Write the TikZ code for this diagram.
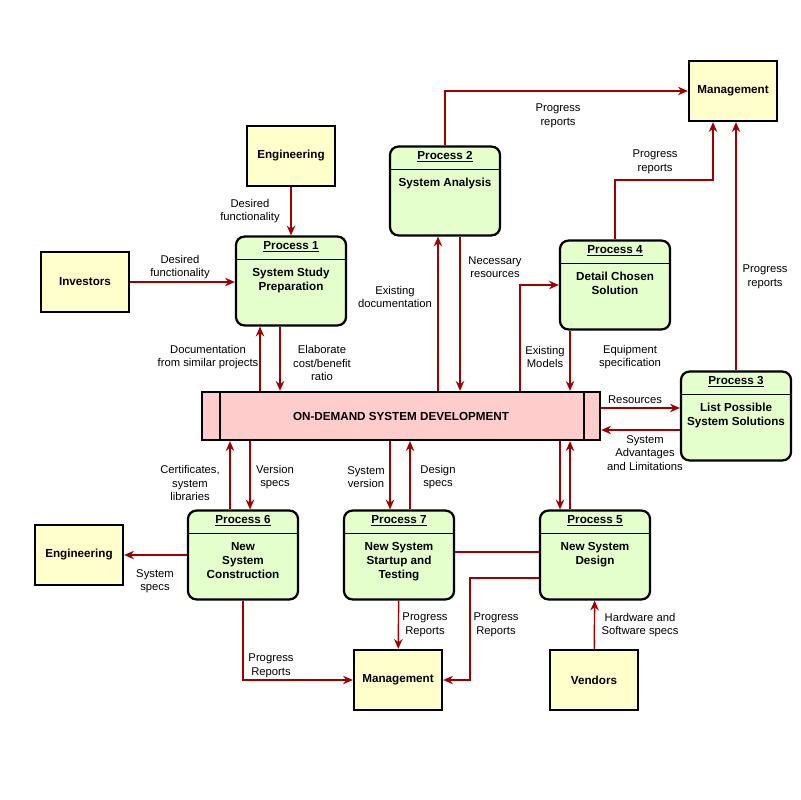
\documentclass[tikz,border=0pt]{standalone}
\usepackage{fontspec}
\setmainfont{Liberation Sans}
\usetikzlibrary{arrows.meta, calc, positioning}
\definecolor{flowred}{HTML}{A00000}
\definecolor{extfill}{HTML}{FFFFCC}
\definecolor{procfill}{HTML}{E5FFCC}
\definecolor{storefill}{HTML}{FFCCCC}
\newcommand{\smallbf}{\fontsize{8.3}{10}\selectfont\bfseries}
\tikzset{
  ext/.style={draw, line width=1.6pt, fill=extfill, minimum width=2.2cm, minimum height=1.5cm, font=\smallbf},
  proc/.style={draw, line width=1.6pt, fill=procfill, rounded corners=6pt, minimum width=2.75cm, minimum height=2.22cm},
  ptext/.style={align=center, font=\smallbf, inner sep=1pt},
  lbl/.style={align=center, inner sep=1pt},
  flow/.style={draw=flowred, line width=1pt, -{Stealth[length=7pt,width=6pt]}}
}
\newcommand{\drawf}{\draw[flow]}
\newcommand{\proc}[4]{%
  \node[proc] (#1) at (#2) {};
  \node[ptext] at ([yshift=-0.28cm]#1.north) {\underline{Process #3}};
  \draw ([yshift=-0.6cm]#1.north west) -- ([yshift=-0.6cm]#1.north east);
  \node[ptext, below] at ([yshift=-0.78cm]#1.north) {#4};}

\begin{document}
\begin{tikzpicture}[x=0.025cm, y=-0.025cm, font=\fontsize{8}{9.6}\selectfont]
\useasboundingbox (0,0) rectangle (800,800);
% Externe Einheiten
\node[ext] (mgmtT) at (733,91) {Management};
\node[ext] (engT) at (291,156) {Engineering};
\node[ext] (inv) at (85,282) {Investors};
\node[ext] (engB) at (79,555) {Engineering};
\node[ext] (mgmtB) at (398,680) {Management};
\node[ext] (vend) at (594,680) {Vendors};
% Prozesse
\proc{p1}{291,281}{1}{System Study\\Preparation}
\proc{p2}{445,191}{2}{System Analysis}
\proc{p4}{615,285}{4}{Detail Chosen\\Solution}
\proc{p3}{736,416}{3}{List Possible\\System Solutions}
\proc{p6}{243,555}{6}{New\\System\\Construction}
\proc{p7}{399,555}{7}{New System\\Startup and\\Testing}
\proc{p5}{595,555}{5}{New System\\Design}
% Datenspeicher
\node[draw, line width=1.6pt, fill=storefill, minimum width=9.95cm, minimum height=1.2cm, font=\smallbf] (store) at (401,416) {ON-DEMAND SYSTEM DEVELOPMENT};
\draw[line width=1.6pt] (220,392) -- (220,440);
\draw[line width=1.6pt] (584,392) -- (584,440);
% Oben
\drawf (engT) -- (p1);
\node[lbl] at (250,211) {Desired\\functionality};
\drawf (inv) -- (p1.west |- inv);
\node[lbl] at (180,267) {Desired\\functionality};
\drawf (store.north -| 260,0) -- (p1.south -| 260,0);
\drawf (p1.south -| 280,0) -- (store.north -| 280,0);
\node[lbl] at (208,357) {Documentation\\from similar projects};
\node[lbl] at (322,363) {Elaborate\\cost/benefit\\ratio};
\drawf (store.north -| 438,0) -- (p2.south -| 438,0);
\drawf (p2.south -| 460,0) -- (store.north -| 460,0);
\node[lbl] at (395,297) {Existing\\documentation};
\node[lbl] at (495,267) {Necessary\\resources};
\drawf (p2.north) |- (mgmtT.west);
\node[lbl] at (558,116) {Progress\\reports};
\drawf (p4.north) |- (713,180) -- (mgmtT.south -| 713,0);
\node[lbl] at (655,162) {Progress\\reports};
\drawf (p3.north) -- (mgmtT.south -| p3.north);
\node[lbl] at (765,277) {Progress\\reports};
\drawf (store.north -| 520,0) |- (p4.west);
\node[lbl] at (545,357) {Existing\\Models};
\drawf (p4.south -| 570,0) -- (store.north -| 570,0);
\node[lbl] at (630,357) {Equipment\\specification};
\drawf (store.east |- 0,408) -- (p3.west |- 0,408);
\node[lbl] at (635,400) {Resources};
\drawf (p3.west |- 0,430) -- (store.east |- 0,430);
\node[lbl] at (645,453) {System\\Advantages\\and Limitations};
% Unten
\drawf (p6.north -| 230,0) -- (store.south -| 230,0);
\drawf (store.south -| 250,0) -- (p6.north -| 250,0);
\node[lbl] at (190,483) {Certificates,\\system\\libraries};
\node[lbl] at (275,477) {Version\\specs};
\drawf (store.south -| 390,0) -- (p7.north -| 390,0);
\drawf (p7.north -| 410,0) -- (store.south -| 410,0);
\node[lbl] at (366,477) {System\\version};
\node[lbl] at (438,477) {Design\\specs};
\drawf (store.south -| 560,0) -- (p5.north -| 560,0);
\drawf (p5.north -| 570,0) -- (store.south -| 570,0);
\drawf (p6.west |- engB) -- (engB);
\node[lbl] at (155,581) {System\\specs};
\drawf (p6.south) |- (mgmtB.west);
\node[lbl] at (271,666) {Progress\\Reports};
\drawf (p7) -- (mgmtB);
\node[lbl] at (425,625) {Progress\\Reports};
\draw[draw=flowred, line width=1pt] (p7.east |- 0,552) -- (p5.west |- 0,552);
\drawf (p5.west |- 0,578) -| (470,680) -- (mgmtB.east);
\node[lbl] at (496,625) {Progress\\Reports};
\drawf (vend) -- (p5);
\node[lbl] at (640,625) {Hardware and\\Software specs};
\end{tikzpicture}
\end{document}
